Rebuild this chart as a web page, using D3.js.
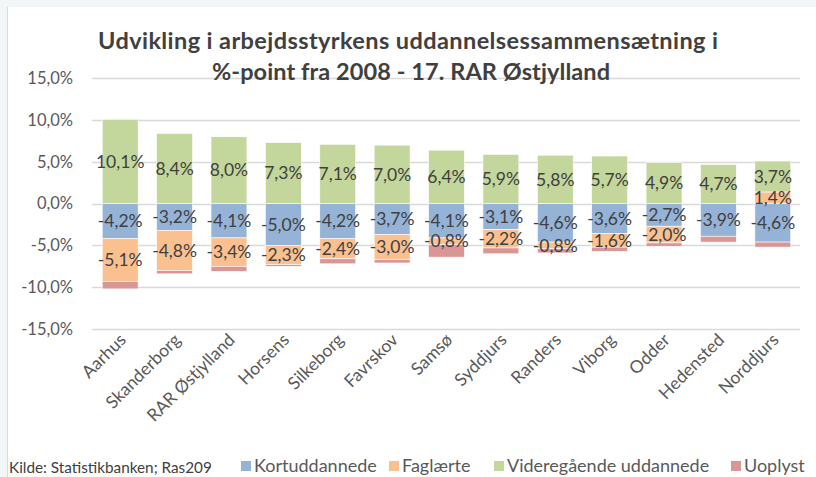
<!DOCTYPE html>
<html>
<head>
<meta charset="utf-8">
<script src="https://cdn.jsdelivr.net/npm/d3@7"></script>
<style>
  body { margin: 0; background: #f2f6f6; }
  svg { display: block; font-family: Lato, "Open Sans", sans-serif; }
</style>
</head>
<body>
<div id="chart"></div>
<script>
// data
const categories = ['Aarhus', 'Skanderborg', 'RAR Østjylland', 'Horsens', 'Silkeborg', 'Favrskov', 'Samsø', 'Syddjurs', 'Randers', 'Viborg', 'Odder', 'Hedensted', 'Norddjurs']
const kortuddannede = [-4.2, -3.2, -4.1, -5.0, -4.2, -3.7, -4.1, -3.1, -4.6, -3.6, -2.7, -3.9, -4.6]
const faglaerte = [-5.1, -4.8, -3.4, -2.3, -2.4, -3.0, -0.8, -2.2, -0.8, -1.6, -2.0, 0, 1.4]
const videregaaende = [10.1, 8.4, 8.0, 7.3, 7.1, 7.0, 6.4, 5.9, 5.8, 5.7, 4.9, 4.7, 3.7]
const uoplyst = [-0.9, -0.4, -0.6, -0.2, -0.6, -0.4, -1.5, -0.7, -0.5, -0.5, -0.4, -0.7, -0.6]
const yTicks = [-15, -10, -5, 0, 5, 10, 15]

const seriesNames = ['Kortuddannede', 'Faglærte', 'Videregående uddannede', 'Uoplyst']
const seriesKeys = ['kort', 'fag', 'vid', 'uop']
const colors = ['#95b3d7', '#fac090', '#c3d69b', '#d99694']
const showLabels = [true, true, true, false]

const rows = categories.map((c, i) => ({
  cat: c, kort: kortuddannede[i], fag: faglaerte[i], vid: videregaaende[i], uop: uoplyst[i]
}))

const W = 816, H = 477
const svg = d3.select('#chart').append('svg').attr('width', W).attr('height', H)

// white chart area with frame like the screenshot
svg.append('rect').attr('x', 7).attr('y', 7).attr('width', W - 7).attr('height', H - 7).attr('fill', '#ffffff')
svg.append('line').attr('x1', 7.5).attr('x2', 7.5).attr('y1', 7).attr('y2', H).attr('stroke', '#d6dcdc')

const x = d3.scaleBand().domain(categories).range([93, 800]).paddingInner(0.34).paddingOuter(0.17)
const y = d3.scaleLinear().domain([-15, 15]).range([329, 78.3])

// gridlines
svg.append('g')
  .selectAll('line')
  .data(yTicks)
  .join('line')
  .attr('x1', 92).attr('x2', 800)
  .attr('y1', d => Math.round(y(d)) + 0.5).attr('y2', d => Math.round(y(d)) + 0.5)
  .attr('stroke', '#d9d9d9').attr('stroke-width', 1.3)

// excel style: comma decimal, plain hyphen
const fmt = v => d3.format('.1f')(v).replace('.', ',').replace('−', '-') + '%'

// y axis labels
svg.append('g')
  .selectAll('text')
  .data(yTicks)
  .join('text')
  .attr('x', 73).attr('y', d => y(d))
  .attr('dy', '0.35em')
  .attr('text-anchor', 'end')
  .attr('fill', '#595959')
  .style('font-size', '16.5px')
  .text(d => fmt(d))

// stacked bars
const stack = d3.stack().keys(seriesKeys).offset(d3.stackOffsetDiverging)
const stacked = stack(rows)

const layers = svg.append('g').selectAll('g')
  .data(stacked)
  .join('g')
  .attr('fill', (d, i) => colors[i])

layers.selectAll('rect')
  .data(d => d)
  .join('rect')
  .attr('x', d => x(d.data.cat))
  .attr('width', x.bandwidth())
  .attr('y', d => y(Math.max(d[0], d[1])))
  .attr('height', d => Math.abs(y(d[0]) - y(d[1])))
  .attr('stroke', '#ffffff').attr('stroke-width', 0.6)

// data labels
stacked.forEach((layer, si) => {
  if (!showLabels[si]) return
  svg.append('g')
    .selectAll('text')
    .data(layer.filter(d => d.data[layer.key] !== 0))
    .join('text')
    .attr('x', d => x(d.data.cat) + x.bandwidth() / 2)
    .attr('y', d => y((d[0] + d[1]) / 2))
    .attr('dy', '0.35em')
    .attr('text-anchor', 'middle')
    .attr('fill', '#404040')
    .style('font-size', '17.5px')
    .text(d => fmt(d.data[layer.key]))
})

// category labels
svg.append('g')
  .selectAll('text')
  .data(categories)
  .join('text')
  .attr('text-anchor', 'end')
  .attr('transform', d => `translate(${x(d) + x.bandwidth() / 2 + 7},341)rotate(-45)`)
  .attr('fill', '#595959')
  .style('font-size', '17.5px')
  .text(d => d)

// title
const title = svg.append('text')
  .attr('text-anchor', 'middle')
  .attr('fill', '#404040')
  .style('font-size', '23.5px')
  .style('font-weight', 'bold')
title.append('tspan').attr('x', 408).attr('y', 49)
  .attr('textLength', 620).attr('lengthAdjust', 'spacing')
  .text('Udvikling i arbejdsstyrkens uddannelsessammensætning i')
title.append('tspan').attr('x', 411).attr('y', 80)
  .attr('textLength', 398).attr('lengthAdjust', 'spacing')
  .text('%-point fra 2008 - 17. RAR Østjylland')

// source
svg.append('text')
  .attr('x', 9).attr('y', 473)
  .attr('fill', '#404040')
  .style('font-size', '15.3px')
  .text('Kilde: Statistikbanken; Ras209')

// legend
const legendX = [241, 389, 494, 731]
const legend = svg.append('g').selectAll('g')
  .data(seriesNames)
  .join('g')
  .attr('transform', (d, i) => `translate(${legendX[i]},461)`)
legend.append('rect').attr('width', 10).attr('height', 10).attr('fill', (d, i) => colors[i])
legend.append('text')
  .attr('x', 13).attr('y', 5).attr('dy', '0.35em')
  .attr('fill', '#595959')
  .style('font-size', '18px')
  .text(d => d)
</script>
</body>
</html>
